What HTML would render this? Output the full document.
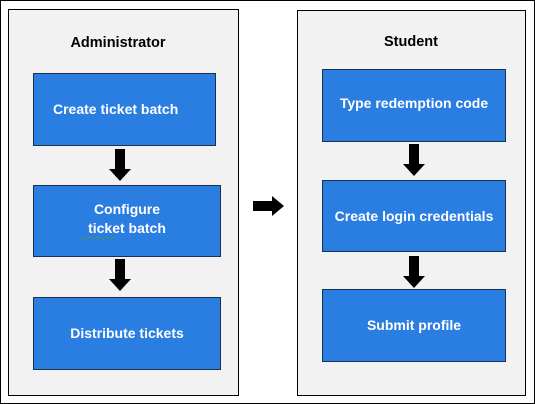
<!DOCTYPE html>
<html><head><style>
body{margin:0;width:535px;height:404px;background:#fff;position:relative;overflow:hidden;font-family:"Liberation Sans",sans-serif;}
.a{position:absolute;box-sizing:border-box}
.outer{left:0;top:0;width:535px;height:404px;border:1px solid #000}
.panel{background:#f2f2f2;border:1px solid #000}
.box{background:#2a7de1;border:1px solid #1a3150;color:#fff;font-weight:bold;font-size:14px;display:flex;align-items:center;justify-content:center;text-align:center;line-height:19px}
.t{font-weight:bold;font-size:14.5px;color:#000;text-align:center}
</style></head><body>
<div class="a outer"></div>
<div class="a panel" style="left:8px;top:9px;width:231px;height:387px"></div>
<div class="a panel" style="left:297px;top:10px;width:229px;height:386px"></div>
<div class="a t" style="left:8px;top:35px;width:220px">Administrator</div>
<div class="a t" style="left:297px;top:34px;width:228px">Student</div>

<div class="a box" style="left:33px;top:73px;width:183px;height:73px;justify-content:flex-start;padding-left:19px">Create ticket batch</div>
<div class="a box" style="left:33px;top:185px;width:188px;height:72px;padding-bottom:4px">Configure<br>ticket batch</div>
<div class="a box" style="left:33px;top:297px;width:188px;height:73px">Distribute tickets</div>

<div class="a box" style="left:322px;top:69px;width:184px;height:73px;padding-bottom:4px">Type redemption code</div>
<div class="a box" style="left:322px;top:180px;width:184px;height:72px">Create login credentials</div>
<div class="a box" style="left:322px;top:289px;width:184px;height:73px">Submit profile</div>

<svg class="a" style="left:0;top:0" width="535" height="404">
<g fill="#000">
<polygon points="115,149 125,149 125,169 131,169 120,181 109,169 115,169"/>
<polygon points="115,259 125,259 125,279 131,279 120,291 109,279 115,279"/>
<polygon points="409,144 419,144 419,164 425,164 414,176 403,164 409,164"/>
<polygon points="409,256 419,256 419,276 425,276 414,288 403,276 409,276"/>
<polygon points="253,201 272,201 272,196 284,206 272,216 272,211 253,211"/>
</g>
<path d="M80 238 q2 -2 4 0 t4 0 t4 0 t4 0 t4 0 t4 0 t4 0 t4 0 t4 0" stroke="#4a9a4a" fill="none" stroke-width="0.8"/>
</svg>
</body></html>
